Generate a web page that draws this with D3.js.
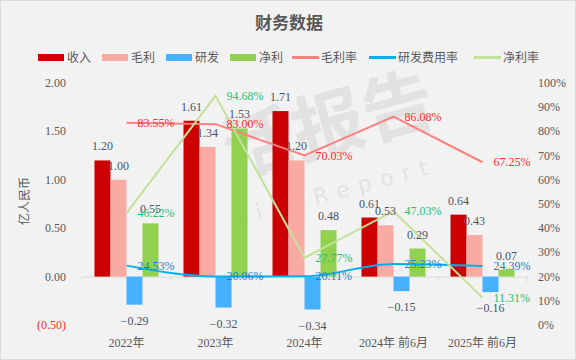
<!DOCTYPE html>
<html><head><meta charset="utf-8">
<script src="https://cdn.jsdelivr.net/npm/d3@7"></script>
<style>
html,body{margin:0;padding:0;background:#fff;}
svg{display:block;}
</style></head>
<body><svg id="c" width="576" height="360"></svg>
<script>
const categories = ["2022年","2023年","2024年","2024年 前6月","2025年 前6月"];
const revenue = [1.20, 1.61, 1.71, 0.61, 0.64];
const grossProfit = [1.00, 1.34, 1.20, 0.53, 0.43];
const rnd = [-0.29, -0.32, -0.34, -0.15, -0.16];
const netProfit = [0.55, 1.53, 0.48, 0.29, 0.07];
const grossMargin = [83.55, 83.00, 70.03, 86.08, 67.25];
const rndRate = [24.53, 20.06, 20.11, 25.23, 24.39];
const netMargin = [46.22, 94.68, 27.77, 47.03, 11.31];
const leftTicks = [-0.5, 0, 0.5, 1, 1.5, 2];
const rightTicks = [0,10,20,30,40,50,60,70,80,90,100];

const FONT = "'Liberation Serif','Noto Sans CJK SC',serif";
const svg = d3.select("#c");
svg.append("rect").attr("x",0.5).attr("y",0.5).attr("width",575).attr("height",359)
  .attr("fill","#f2f2f2").attr("stroke","#d9d9d9");

// watermark
const wm = svg.append("g").attr("transform","translate(335,150) rotate(-15)").attr("opacity",0.08);
wm.append("text").attr("text-anchor","middle").attr("x",0).attr("y",0)
  .attr("font-family","'Noto Sans CJK SC',sans-serif").attr("font-size",72).attr("font-weight","bold")
  .attr("fill","#333").text("活报告");
wm.append("text").attr("text-anchor","middle").attr("x",-10).attr("y",48)
  .attr("font-family","'DejaVu Sans',sans-serif").attr("font-size",22).attr("letter-spacing",9)
  .attr("fill","#333").text("LiveReport");

// title
svg.append("text").attr("x",289).attr("y",29).attr("text-anchor","middle")
  .attr("font-family",FONT).attr("font-size",17).attr("font-weight","bold").attr("fill","#595959").text("财务数据");

const series = [
  {name:"收入", data:revenue, color:"#cc0000"},
  {name:"毛利", data:grossProfit, color:"#f9aaa3"},
  {name:"研发", data:rnd, color:"#45b1ff"},
  {name:"净利", data:netProfit, color:"#92d050"}
];
const lines = [
  {name:"毛利率", data:grossMargin, color:"#ff8080", label:"#ff2a2a", curve:d3.curveLinear},
  {name:"研发费用率", data:rndRate, color:"#00b0f0", label:"#1a7fd0", curve:d3.curveMonotoneX},
  {name:"净利率", data:netMargin, color:"#c2e29a", label:"#22c07a", curve:d3.curveLinear}
];

// legend
const legendX = [38,102,166,230,292,369,474];
const legendItems = series.map(s=>({name:s.name,color:s.color,type:"bar"}))
  .concat(lines.map(l=>({name:l.name,color:l.color,type:"line"})));
const lg = svg.append("g");
legendItems.forEach((it,i)=>{
  const x = legendX[i];
  if(it.type==="bar") lg.append("rect").attr("x",x).attr("y",54).attr("width",26).attr("height",7).attr("fill",it.color);
  else lg.append("rect").attr("x",x).attr("y",56).attr("width",27).attr("height",3).attr("fill",it.color);
  lg.append("text").attr("x",x+29).attr("y",61.5).attr("font-family",FONT).attr("font-size",12)
    .attr("fill","#595959").text(it.name);
});

const x0 = d3.scaleBand().domain(categories).range([82,527]);
const x1 = d3.scaleBand().domain(series.map(s=>s.name)).range([x0.bandwidth()/2-32, x0.bandwidth()/2+32]);
const yL = d3.scaleLinear().domain([-0.5,2]).range([325,83]);
const yR = d3.scaleLinear().domain([0,100]).range([325,83]);

// left axis labels
svg.append("g").selectAll("text").data(leftTicks).join("text")
  .attr("x",66).attr("y",d=>yL(d)+4).attr("text-anchor","end")
  .attr("font-family",FONT).attr("font-size",12)
  .attr("fill",d=>d<0?"#ff2a2a":"#595959")
  .text(d=>d<0?"("+d3.format(".2f")(-d)+")":d3.format(".2f")(d));
// right axis labels
svg.append("g").selectAll("text").data(rightTicks).join("text")
  .attr("x",538).attr("y",d=>yR(d)+4).attr("text-anchor","start")
  .attr("font-family",FONT).attr("font-size",12).attr("fill","#595959")
  .text(d=>d+"%");
// y title
svg.append("text").attr("transform","translate(29,201) rotate(-90)").attr("text-anchor","middle")
  .attr("font-family",FONT).attr("font-size",12).attr("fill","#595959").text("亿人民币");

// x axis
const xAxis = d3.axisBottom(x0).tickSize(0).tickFormat("");
const ax = svg.append("g").attr("transform",`translate(0,${yL(0)})`).call(xAxis);
ax.select(".domain").attr("stroke","#d9d9d9");
const bounds = categories.map(c=>x0(c)).concat([x0.range()[1]]);
svg.append("g").selectAll("line").data(bounds).join("line")
  .attr("x1",d=>d).attr("x2",d=>d).attr("y1",yL(0)).attr("y2",yL(0)+5).attr("stroke","#d9d9d9");
svg.append("g").selectAll("text").data(categories).join("text")
  .attr("x",d=>x0(d)+x0.bandwidth()/2).attr("y",347).attr("text-anchor","middle")
  .attr("font-family",FONT).attr("font-size",12).attr("fill","#595959").text(d=>d);

// bars
const barG = svg.append("g");
series.forEach(s=>{
  barG.selectAll(null).data(s.data).join("rect")
    .attr("x",(d,i)=>x0(categories[i])+x1(s.name))
    .attr("width",x1.bandwidth())
    .attr("y",d=>Math.min(yL(d),yL(0)))
    .attr("height",d=>Math.abs(yL(d)-yL(0)))
    .attr("fill",s.color);
});

// lines
lines.forEach(l=>{
  const gen = d3.line().x((d,i)=>x0(categories[i])+x0.bandwidth()/2).y(d=>yR(d)).curve(l.curve);
  svg.append("path").datum(l.data).attr("d",gen).attr("fill","none")
    .attr("stroke",l.color).attr("stroke-width",2);
});

// bar labels
const lblG = svg.append("g");
series.forEach(s=>{
  lblG.selectAll(null).data(s.data).join("text")
    .attr("x",(d,i)=>x0(categories[i])+x1(s.name)+x1.bandwidth()/2)
    .attr("y",d=>d>=0?yL(d)-10:yL(d)+20)
    .attr("text-anchor","middle").attr("font-family",FONT).attr("font-size",12)
    .attr("fill","#4a5468")
    .text(d=>d<0?"\u22120"+d3.format(".2f")(-d).slice(1):d3.format(".2f")(d));
});
// line labels
lines.forEach(l=>{
  lblG.selectAll(null).data(l.data).join("text")
    .attr("x",(d,i)=>x0(categories[i])+x0.bandwidth()/2+11)
    .attr("y",d=>yR(d)+4)
    .attr("font-family",FONT).attr("font-size",12).attr("fill",l.label)
    .text(d=>d3.format(".2f")(d)+"%");
});
</script></body></html>
